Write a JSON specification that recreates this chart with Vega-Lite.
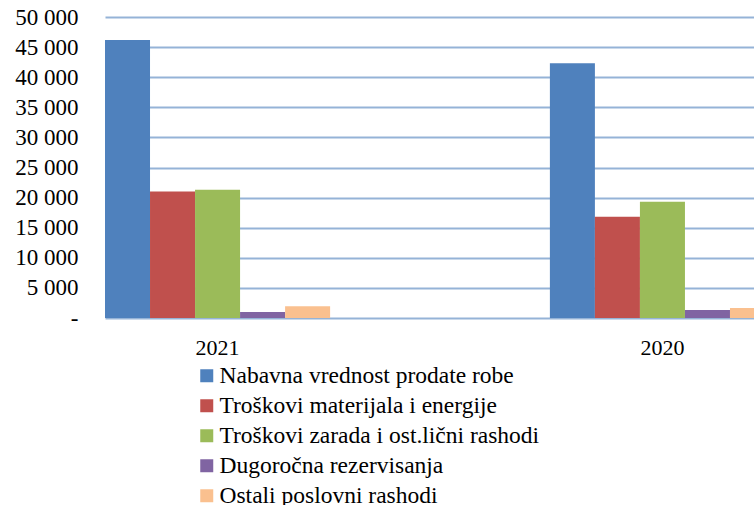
{
  "$schema": "https://vega.github.io/schema/vega-lite/v6.json",
  "width": 670,
  "height": 301,
  "autosize": {"type": "none"},
  "padding": {"left": 105, "top": 17, "right": 0, "bottom": 187},
  "background": "white",
  "config": {
    "view": {"stroke": null},
    "font": "Liberation Serif"
  },
  "data": {
    "values": [
      {"year": "2021", "cat": "Nabavna vrednost prodate robe", "value": 46200},
      {"year": "2021", "cat": "Troškovi materijala i energije", "value": 21000},
      {"year": "2021", "cat": "Troškovi zarada i ost.lični rashodi", "value": 21300},
      {"year": "2021", "cat": "Dugoročna rezervisanja", "value": 1000},
      {"year": "2021", "cat": "Ostali poslovni rashodi", "value": 1950},
      {"year": "2020", "cat": "Nabavna vrednost prodate robe", "value": 42300},
      {"year": "2020", "cat": "Troškovi materijala i energije", "value": 16800},
      {"year": "2020", "cat": "Troškovi zarada i ost.lični rashodi", "value": 19300},
      {"year": "2020", "cat": "Dugoročna rezervisanja", "value": 1330},
      {"year": "2020", "cat": "Ostali poslovni rashodi", "value": 1660}
    ]
  },
  "mark": {"type": "bar"},
  "encoding": {
    "x": {
      "field": "year",
      "type": "nominal",
      "sort": ["2021", "2020"],
      "scale": {"paddingInner": 0.494, "paddingOuter": 0},
      "axis": {
        "title": null,
        "labelAngle": 0,
        "domain": false,
        "ticks": false,
        "labelFontSize": 22,
        "labelColor": "#000000",
        "labelPadding": 19,
        "labelFont": "Liberation Serif"
      }
    },
    "xOffset": {
      "field": "cat",
      "type": "nominal",
      "sort": ["Nabavna vrednost prodate robe", "Troškovi materijala i energije", "Troškovi zarada i ost.lični rashodi", "Dugoročna rezervisanja", "Ostali poslovni rashodi"],
      "scale": {"paddingInner": 0, "paddingOuter": 0}
    },
    "y": {
      "field": "value",
      "type": "quantitative",
      "scale": {"domain": [0, 50000], "nice": false},
      "axis": {
        "title": null,
        "values": [0, 5000, 10000, 15000, 20000, 25000, 30000, 35000, 40000, 45000, 50000],
        "labelExpr": "datum.value == 0 ? '-' : replace(format(datum.value, ','), ',', ' ')",
        "domain": false,
        "ticks": false,
        "grid": true,
        "gridColor": "#95B3D7",
        "gridWidth": 2,
        "labelFontSize": 23,
        "labelColor": "#000000",
        "labelPadding": 27,
        "labelFont": "Liberation Serif"
      }
    },
    "color": {
      "field": "cat",
      "type": "nominal",
      "sort": ["Nabavna vrednost prodate robe", "Troškovi materijala i energije", "Troškovi zarada i ost.lični rashodi", "Dugoročna rezervisanja", "Ostali poslovni rashodi"],
      "scale": {
        "domain": ["Nabavna vrednost prodate robe", "Troškovi materijala i energije", "Troškovi zarada i ost.lični rashodi", "Dugoročna rezervisanja", "Ostali poslovni rashodi"],
        "range": ["#4F81BD", "#C0504D", "#9BBB59", "#8064A2", "#FAC08F"]
      },
      "legend": {
        "title": null,
        "orient": "none",
        "legendX": 90,
        "legendY": 347,
        "direction": "vertical",
        "symbolType": "square",
        "symbolSize": 169,
        "symbolStrokeWidth": 0,
        "labelFontSize": 23.5,
        "labelColor": "#000000",
        "labelFont": "Liberation Serif",
        "rowPadding": 5,
        "labelOffset": 1,
        "labelLimit": 500
      }
    }
  }
}
